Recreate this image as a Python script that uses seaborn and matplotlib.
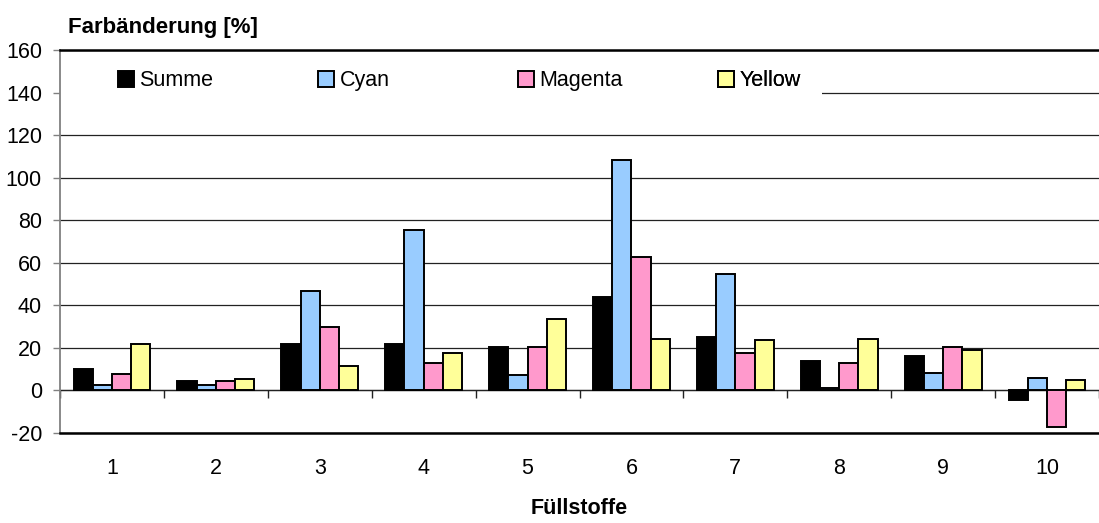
import numpy as np
import pandas as pd
import matplotlib.pyplot as plt
import seaborn as sns
from matplotlib.patches import Patch, Rectangle

# Werte
fuellstoffe = ['1', '2', '3', '4', '5', '6', '7', '8', '9', '10']
summe = [9.9, 4.4, 21.6, 21.8, 20.5, 44.0, 25.1, 13.9, 16.3, -4.3]
cyan = [2.5, 2.5, 46.7, 75.4, 7.1, 108.4, 54.7, 1.1, 8.1, 5.9]
magenta = [7.5, 4.4, 29.7, 12.9, 20.2, 62.9, 17.4, 13.1, 20.6, -17.0]
yellow = [22.0, 5.2, 11.7, 17.7, 33.4, 24.0, 23.7, 24.3, 19.2, 5.1]
serien = ['Summe', 'Cyan', 'Magenta', 'Yellow']
farben = ['#000000', '#99CCFF', '#FF99CC', '#FFFF99']
y_ticks = [-20, 0, 20, 40, 60, 80, 100, 120, 140, 160]

df = pd.DataFrame({
    'Füllstoff': fuellstoffe * 4,
    'Serie': np.repeat(serien, len(fuellstoffe)),
    'Wert': summe + cyan + magenta + yellow,
})

sns.set_theme(style='white')
plt.rcParams['font.family'] = ['Liberation Sans Narrow', 'Liberation Sans', 'DejaVu Sans']
plt.rcParams['text.color'] = 'black'
plt.rcParams['axes.unicode_minus'] = False

fig = plt.figure(figsize=(10.99, 5.23), dpi=100)
ax = fig.add_axes([60 / 1099, 1 - 433 / 523, 1 - 60 / 1099, (433 - 50) / 523])

sns.barplot(data=df, x='Füllstoff', y='Wert', hue='Serie', order=fuellstoffe,
            hue_order=serien, palette=farben, saturation=1, width=0.74, gap=0,
            edgecolor='black', linewidth=1.4, errorbar=None, legend=False, ax=ax)

ax.set_xlim(-0.5, len(fuellstoffe) - 0.5)
ax.set_ylim(y_ticks[0], y_ticks[-1])
ax.set_yticks(y_ticks)
ax.set_axisbelow(True)
ax.yaxis.grid(True, color='#222222', linewidth=0.9)
ax.xaxis.grid(False)

for s in ['top', 'bottom']:
    ax.spines[s].set_color('black')
    ax.spines[s].set_linewidth(1.8)
ax.spines['left'].set_color('#808080')
ax.spines['left'].set_linewidth(1.3)
ax.spines['right'].set_visible(False)

ax.tick_params(axis='y', left=True, direction='out', length=5, width=1,
               color='#808080', pad=8, labelsize=15.5, labelcolor='black')
ax.tick_params(axis='x', bottom=False, length=0, pad=18, labelsize=15.5,
               labelcolor='black')
ax.set_ylabel('')
ax.set_xlabel('Füllstoffe', fontsize=15.5, fontweight='bold', labelpad=14,
              color='black')

# Kategorienachse bei y = 0 mit Teilstrichen zwischen den Gruppen
y0 = (0 - y_ticks[0]) / (y_ticks[-1] - y_ticks[0])
secax = ax.secondary_xaxis(y0)
secax.set_xticks(np.arange(len(fuellstoffe) + 1) - 0.5)
secax.tick_params(axis='x', direction='out', length=6, width=1, color='#222222',
                  labelbottom=False)
secax.spines['bottom'].set_color('#222222')
secax.spines['bottom'].set_linewidth(0.9)

# Legende mit weissem Hintergrund
ax.add_patch(Rectangle((0, 0.855), (822 - 60) / 1039, 0.12, transform=ax.transAxes,
                       facecolor='white', edgecolor='none', zorder=2))
leg_x = [(118 - 60) / 1039, (318 - 60) / 1039, (518 - 60) / 1039, (718 - 60) / 1039]
for name, farbe, lx in zip(serien, farben, leg_x):
    handle = Patch(facecolor=farbe, edgecolor='black', linewidth=1.4, label=name)
    leg = ax.legend(handles=[handle], loc='center left', bbox_to_anchor=(lx, 0.92),
                    frameon=False, borderpad=0, borderaxespad=0, fontsize=15.5,
                    handlelength=0.75, handleheight=0.75, handletextpad=0.25,
                    labelcolor='black')
    ax.add_artist(leg)

fig.text(68 / 1099, 1 - 33 / 523, 'Farbänderung [%]', fontsize=16, fontweight='bold',
         ha='left', va='baseline', color='black')

fig.savefig('out.png', dpi=100)
